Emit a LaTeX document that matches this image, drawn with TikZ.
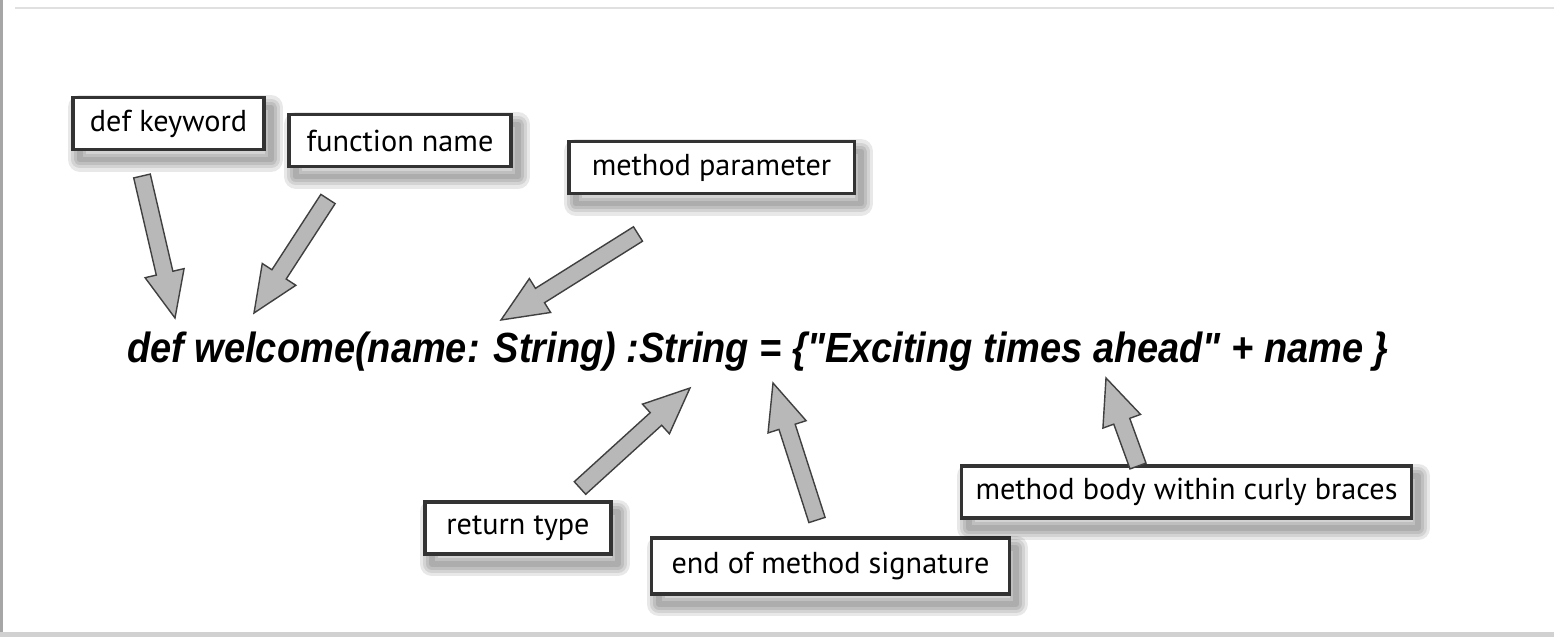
\documentclass[tikz,border=0pt]{standalone}
\usepackage{fontspec}
\setmainfont{PT Sans}
\newfontfamily\codefont{Liberation Sans}
\usetikzlibrary{calc}

% grey block arrow from #1 (tail) to #2 (tip)
\newcommand{\blockarrow}[2]{%
  \coordinate (#1-neck) at ($(#2)!0.46cm!(#1)$);
  \draw[arrow body] ($(#1)!0.085cm!90:(#2)$)
    -- ($(#1-neck)!0.085cm!90:(#2)$)
    -- ($(#1-neck)!0.2cm!90:(#2)$)
    -- (#2)
    -- ($(#1-neck)!0.2cm!-90:(#2)$)
    -- ($(#1-neck)!0.085cm!-90:(#2)$)
    -- ($(#1)!0.085cm!-90:(#2)$) -- cycle;}

\begin{document}
\begin{tikzpicture}[x=0.01cm,y=-0.01cm,
    shadow layer/.style={preaction={draw=black, line width=#1, draw opacity=0.09,
      line join=round, transform canvas={shift={(0.07cm,-0.1cm)}}}},
    label box/.style={draw=black!80, line width=0.9pt, fill=white,
      minimum height=0.52cm, inner sep=0pt, font=\fontsize{8.6}{10}\selectfont,
      shadow layer=7pt, shadow layer=5pt, shadow layer=3.2pt, shadow layer=1.6pt},
    arrow body/.style={fill=black!28, draw=black!75, line width=0.4pt, line join=miter}]

    \useasboundingbox[fill=white] (0,0) rectangle (1554,637);

    % Bildschirmrand
    \draw[black!12, line width=0.6pt] (15,8) -- (1554,8);
    \fill[black!35] (0,0) rectangle (3,637);
    \fill[black!18] (0,632) rectangle (1554,637);

    % Code
    \node[font=\codefont\bfseries\itshape\fontsize{12}{14}\selectfont, inner sep=0pt]
      (code) at (758,352) {\scalebox{0.9}[1]{def welcome(name: String) :String = \{"Exciting times ahead" + name \}}};

    % Beschriftungen oben
    \node[label box, minimum width=1.91cm] (kw) at (168.5,123.5) {def keyword};
    \node[label box, minimum width=2.22cm] (fn) at (400,140.5) {function name};
    \node[label box, minimum width=2.85cm] (par) at (711.5,167.5) {method parameter};

    % Beschriftungen unten
    \node[label box, minimum width=1.86cm] (ret) at (518,528) {return type};
    \node[label box, minimum width=3.57cm, minimum height=0.56cm] (sig) at (830.5,566) {end of method signature};
    \node[label box, minimum width=4.49cm] (body) at (1186.5,492) {method body within curly braces};

    % Pfeile
    \coordinate (kw-tail) at (142,176);  \coordinate (kw-tip) at (175,318);
    \coordinate (fn-tail) at (328,199);  \coordinate (fn-tip) at (254,313);
    \coordinate (par-tail) at (638,234); \coordinate (par-tip) at (501,320);
    \coordinate (ret-tail) at (580,488); \coordinate (ret-tip) at (690,388);
    \coordinate (sig-tail) at (817,520); \coordinate (sig-tip) at (773,383);
    \coordinate (body-tail) at (1138,466); \coordinate (body-tip) at (1106,378);

    \blockarrow{kw-tail}{kw-tip}
    \blockarrow{fn-tail}{fn-tip}
    \blockarrow{par-tail}{par-tip}
    \blockarrow{ret-tail}{ret-tip}
    \blockarrow{sig-tail}{sig-tip}
    \blockarrow{body-tail}{body-tip}

\end{tikzpicture}
\end{document}
